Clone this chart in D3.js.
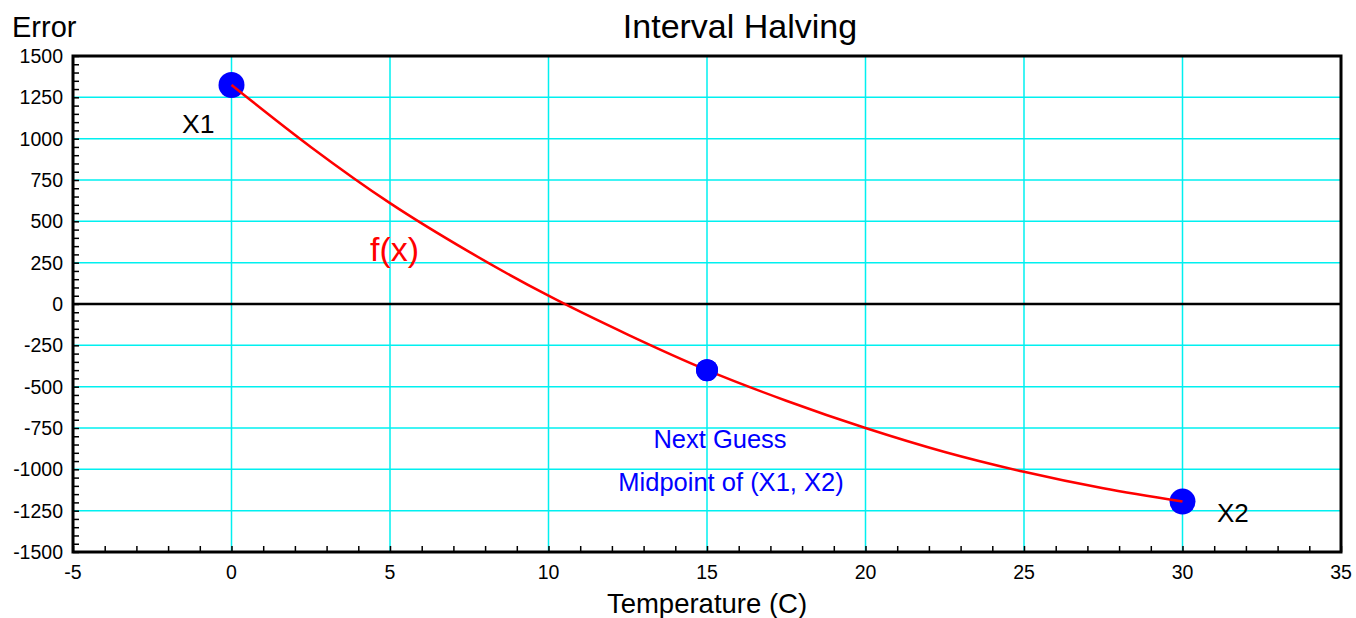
<!DOCTYPE html>
<html>
<head>
<meta charset="utf-8">
<script src="https://cdn.jsdelivr.net/npm/d3@7"></script>
<style>
  body { margin: 0; background: #fff; }
  svg text { font-family: "Liberation Sans", Arial, sans-serif; }
</style>
</head>
<body>
<div id="chart"></div>
<script>
/* CONSTANTS AND GLOBALS */
const width = 1356,
  height = 618,
  margin = { top: 56, bottom: 66, left: 73, right: 15 };

// curve (temperature, error)
const curveX = [0, 2.5, 5, 7.5, 10, 12.5, 15, 17.5, 20, 22.5, 25, 27.5, 30];
const curveY = [1325, 950, 610, 315, 50, -185, -400, -585, -750, -895, -1015, -1115, -1195];

// the marked points
const pointNames = ["X1", "mid", "X2"];
const pointX = [0, 15, 30];
const pointY = [1325, -400, -1195];
const pointR = [13, 11, 13];

const xTicks = [-5, 0, 5, 10, 15, 20, 25, 30, 35];
const yTicks = [1500, 1250, 1000, 750, 500, 250, 0, -250, -500, -750, -1000, -1250, -1500];

const svg = d3.select("#chart").append("svg")
  .attr("width", width)
  .attr("height", height);

const xScale = d3.scaleLinear()
  .domain([-5, 35])
  .range([margin.left, width - margin.right]);

const yScale = d3.scaleLinear()
  .domain([-1500, 1500])
  .range([height - margin.bottom, margin.top]);

// GRID
svg.append("g").selectAll("line")
  .data(xTicks.slice(1, -1))
  .join("line")
  .attr("x1", d => xScale(d)).attr("x2", d => xScale(d))
  .attr("y1", margin.top).attr("y2", height - margin.bottom)
  .attr("stroke", "#00f0f0").attr("stroke-width", 1.5);

svg.append("g").selectAll("line")
  .data(yTicks.filter(d => d !== 0 && Math.abs(d) !== 1500))
  .join("line")
  .attr("x1", margin.left).attr("x2", width - margin.right)
  .attr("y1", d => yScale(d)).attr("y2", d => yScale(d))
  .attr("stroke", "#00f0f0").attr("stroke-width", 1.5);

// zero line
svg.append("line")
  .attr("x1", margin.left).attr("x2", width - margin.right)
  .attr("y1", yScale(0)).attr("y2", yScale(0))
  .attr("stroke", "#000").attr("stroke-width", 2.5);

// AXES (ticks inside)
const yAxis = svg.append("g")
  .attr("transform", `translate(${margin.left},0)`)
  .call(d3.axisRight(yScale).ticks(60).tickSize(6).tickFormat(""));
yAxis.select(".domain").remove();
yAxis.selectAll("line").attr("stroke-width", 1.5);

const xAxis = svg.append("g")
  .attr("transform", `translate(0,${height - margin.bottom})`)
  .call(d3.axisTop(xScale).ticks(40).tickSize(6).tickFormat(""));
xAxis.select(".domain").remove();
xAxis.selectAll("line").attr("stroke-width", 1.5);

// tick labels
svg.append("g").selectAll("text")
  .data(yTicks)
  .join("text")
  .attr("x", margin.left - 10)
  .attr("y", d => yScale(d) + 7)
  .attr("text-anchor", "end")
  .attr("font-size", 19.5)
  .text(d => d);

svg.append("g").selectAll("text")
  .data(xTicks)
  .join("text")
  .attr("x", d => xScale(d))
  .attr("y", height - margin.bottom + 27)
  .attr("text-anchor", "middle")
  .attr("font-size", 19.5)
  .text(d => d);

// frame
svg.append("rect")
  .attr("x", margin.left).attr("y", margin.top)
  .attr("width", width - margin.left - margin.right)
  .attr("height", height - margin.top - margin.bottom)
  .attr("fill", "none").attr("stroke", "#000").attr("stroke-width", 3);

// CURVE
const line = d3.line()
  .x((d, i) => xScale(curveX[i]))
  .y(d => yScale(d))
  .curve(d3.curveMonotoneX);

// POINTS
svg.append("g").selectAll("circle")
  .data(pointNames)
  .join("circle")
  .attr("cx", (d, i) => xScale(pointX[i]))
  .attr("cy", (d, i) => yScale(pointY[i]))
  .attr("r", (d, i) => pointR[i])
  .attr("fill", "#0000ff");

// curve on top of the end dots, under the middle one
svg.append("path")
  .attr("d", line(curveY))
  .attr("fill", "none")
  .attr("stroke", "#ff0000")
  .attr("stroke-width", 2.5);

svg.append("circle")
  .attr("cx", xScale(pointX[1]))
  .attr("cy", yScale(pointY[1]))
  .attr("r", pointR[1])
  .attr("fill", "#0000ff");

// LABELS
svg.append("text").attr("x", 740).attr("y", 38)
  .attr("text-anchor", "middle").attr("font-size", 34).text("Interval Halving");
svg.append("text").attr("x", 12).attr("y", 37)
  .attr("font-size", 29).text("Error");
svg.append("text").attr("x", xScale(15)).attr("y", 613)
  .attr("text-anchor", "middle").attr("font-size", 27.5).text("Temperature (C)");

svg.append("text").attr("x", 182).attr("y", 133)
  .attr("font-size", 26.5).text("X1");
svg.append("text").attr("x", 1217).attr("y", 522)
  .attr("font-size", 26).text("X2");
svg.append("text").attr("x", 370).attr("y", 261)
  .attr("font-size", 34).attr("fill", "#ff0000").text("f(x)");

svg.append("text").attr("x", 720).attr("y", 448)
  .attr("text-anchor", "middle").attr("font-size", 25.5).attr("fill", "#0000ff").text("Next Guess");
svg.append("text").attr("x", 731).attr("y", 491)
  .attr("text-anchor", "middle").attr("font-size", 25.5).attr("fill", "#0000ff").text("Midpoint of (X1, X2)");
</script>
</body>
</html>
